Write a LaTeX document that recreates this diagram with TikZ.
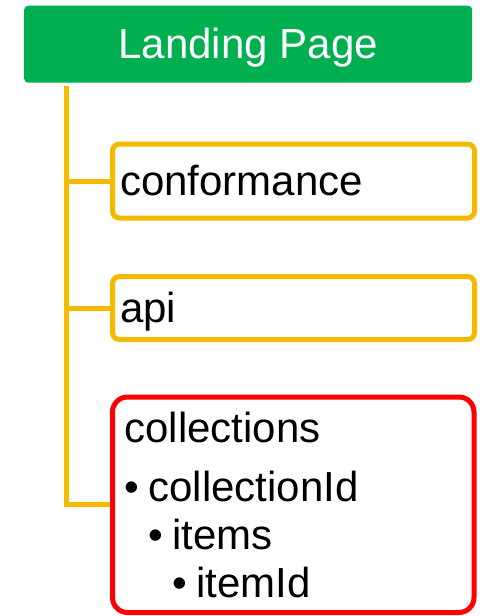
\documentclass[tikz,border=0pt]{standalone}
\usepackage{fontspec}
\setmainfont{Liberation Sans}
\usetikzlibrary{positioning}
\definecolor{pagegreen}{RGB}{0,176,80}
\definecolor{linkgold}{RGB}{245,185,0}
\definecolor{linkred}{RGB}{255,0,0}
\tikzset{
	every node/.style = {font=\fontsize{42}{48}\selectfont},
	pagebox/.style = {fill=pagegreen, text=white, rounded corners=4pt,
		minimum width=448pt, minimum height=77pt, text height=28pt, text depth=0pt},
	leafbox/.style = {draw=linkgold, line width=5pt, rounded corners=7pt,
		minimum width=362pt, text width=347pt, inner xsep=7.5pt, align=left,
		text height=28pt, text depth=0pt},
	collbox/.style = {draw=linkred, line width=5pt, rounded corners=15pt,
		minimum width=361.5pt, text width=337.5pt, inner xsep=12pt, align=left,
		minimum height=215.5pt},
	branch/.style = {draw=linkgold, line width=5pt}
}
\begin{document}
\begin{tikzpicture}[x=1pt, y=-1pt]
	\useasboundingbox (0,0) rectangle (482,616);
	\node[pagebox] (landing) at (248.2,44.2) {Landing Page};
	\node[leafbox, minimum height=74pt] (conf) at (293.5,181) {conformance};
	\node[leafbox, minimum height=63pt] (api) at (293.5,308) {api};
	\node[collbox] (coll) at (293.25,504.75) {collections\\[11pt]
		\makebox[24pt][l]{•}collectionId\\
		\hspace*{24pt}\makebox[24pt][l]{•}items\\
		\hspace*{48pt}\makebox[24pt][l]{•}itemId};
	\coordinate (trunk) at (66.7,86);
	\draw[branch] (trunk) |- (coll.west);
	\draw[branch] (trunk |- conf.west) -- (conf.west);
	\draw[branch] (trunk |- api.west) -- (api.west);
\end{tikzpicture}
\end{document}
